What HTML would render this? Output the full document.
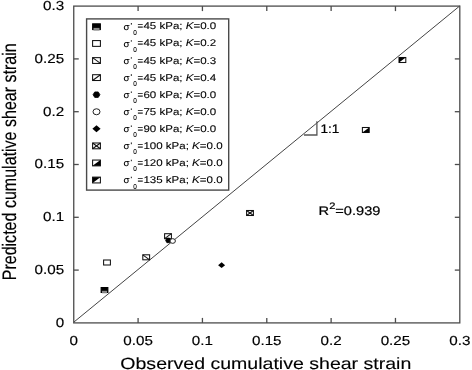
<!DOCTYPE html><html><head><meta charset="utf-8"><style>html,body{margin:0;padding:0;background:#fff;}svg{display:block;will-change:transform;}text{font-family:"Liberation Sans",sans-serif;fill:#000;text-rendering:geometricPrecision;stroke:#000;stroke-width:0.2px;}.b{stroke-width:0.12px;}.l{stroke-width:0.1px;}.t{stroke-width:0.15px;}</style></head><body>
<svg width="472" height="370" viewBox="0 0 472 370">
<rect x="0" y="0" width="472" height="370" fill="#fff"/>
<line x1="73.75" y1="322.2" x2="459.8" y2="5.9" stroke="#444" stroke-width="1.0"/>
<rect x="73.75" y="6.1" width="386.05" height="316.80" fill="none" stroke="#4c4c4c" stroke-width="1.3"/>
<line x1="138.09" y1="322.9" x2="138.09" y2="317.9" stroke="#4c4c4c" stroke-width="1.3"/>
<line x1="138.09" y1="6.1" x2="138.09" y2="11.1" stroke="#4c4c4c" stroke-width="1.3"/>
<line x1="73.75" y1="270.10" x2="78.75" y2="270.10" stroke="#4c4c4c" stroke-width="1.3"/>
<line x1="459.8" y1="270.10" x2="454.8" y2="270.10" stroke="#4c4c4c" stroke-width="1.3"/>
<line x1="202.43" y1="322.9" x2="202.43" y2="317.9" stroke="#4c4c4c" stroke-width="1.3"/>
<line x1="202.43" y1="6.1" x2="202.43" y2="11.1" stroke="#4c4c4c" stroke-width="1.3"/>
<line x1="73.75" y1="217.30" x2="78.75" y2="217.30" stroke="#4c4c4c" stroke-width="1.3"/>
<line x1="459.8" y1="217.30" x2="454.8" y2="217.30" stroke="#4c4c4c" stroke-width="1.3"/>
<line x1="266.78" y1="322.9" x2="266.78" y2="317.9" stroke="#4c4c4c" stroke-width="1.3"/>
<line x1="266.78" y1="6.1" x2="266.78" y2="11.1" stroke="#4c4c4c" stroke-width="1.3"/>
<line x1="73.75" y1="164.50" x2="78.75" y2="164.50" stroke="#4c4c4c" stroke-width="1.3"/>
<line x1="459.8" y1="164.50" x2="454.8" y2="164.50" stroke="#4c4c4c" stroke-width="1.3"/>
<line x1="331.12" y1="322.9" x2="331.12" y2="317.9" stroke="#4c4c4c" stroke-width="1.3"/>
<line x1="331.12" y1="6.1" x2="331.12" y2="11.1" stroke="#4c4c4c" stroke-width="1.3"/>
<line x1="73.75" y1="111.70" x2="78.75" y2="111.70" stroke="#4c4c4c" stroke-width="1.3"/>
<line x1="459.8" y1="111.70" x2="454.8" y2="111.70" stroke="#4c4c4c" stroke-width="1.3"/>
<line x1="395.46" y1="322.9" x2="395.46" y2="317.9" stroke="#4c4c4c" stroke-width="1.3"/>
<line x1="395.46" y1="6.1" x2="395.46" y2="11.1" stroke="#4c4c4c" stroke-width="1.3"/>
<line x1="73.75" y1="58.90" x2="78.75" y2="58.90" stroke="#4c4c4c" stroke-width="1.3"/>
<line x1="459.8" y1="58.90" x2="454.8" y2="58.90" stroke="#4c4c4c" stroke-width="1.3"/>
<text class="t" x="0" y="0" font-size="13.0" text-anchor="end" transform="translate(64.2,326.77) scale(1.17,1)">0</text>
<text class="t" x="0" y="0" font-size="13.0" text-anchor="end" transform="translate(64.2,273.97) scale(1.17,1)">0.05</text>
<text class="t" x="0" y="0" font-size="13.0" text-anchor="end" transform="translate(64.2,221.17) scale(1.17,1)">0.1</text>
<text class="t" x="0" y="0" font-size="13.0" text-anchor="end" transform="translate(64.2,168.37) scale(1.17,1)">0.15</text>
<text class="t" x="0" y="0" font-size="13.0" text-anchor="end" transform="translate(64.2,115.57) scale(1.17,1)">0.2</text>
<text class="t" x="0" y="0" font-size="13.0" text-anchor="end" transform="translate(64.2,62.77) scale(1.17,1)">0.25</text>
<text class="t" x="0" y="0" font-size="13.0" text-anchor="end" transform="translate(64.2,9.97) scale(1.17,1)">0.3</text>
<text class="t" x="0" y="0" font-size="13.0" text-anchor="middle" transform="translate(73.75,344.60) scale(1.17,1)">0</text>
<text class="t" x="0" y="0" font-size="13.0" text-anchor="middle" transform="translate(138.09,344.60) scale(1.17,1)">0.05</text>
<text class="t" x="0" y="0" font-size="13.0" text-anchor="middle" transform="translate(202.43,344.60) scale(1.17,1)">0.1</text>
<text class="t" x="0" y="0" font-size="13.0" text-anchor="middle" transform="translate(266.78,344.60) scale(1.17,1)">0.15</text>
<text class="t" x="0" y="0" font-size="13.0" text-anchor="middle" transform="translate(331.12,344.60) scale(1.17,1)">0.2</text>
<text class="t" x="0" y="0" font-size="13.0" text-anchor="middle" transform="translate(395.46,344.60) scale(1.17,1)">0.25</text>
<text class="t" x="0" y="0" font-size="13.0" text-anchor="middle" transform="translate(459.80,344.60) scale(1.17,1)">0.3</text>
<text x="0" y="0" font-size="16.3" class="b" transform="translate(120.3,368.7) scale(1.2,1)">Observed cumulative shear strain</text>
<text x="0" y="0" class="b" transform="translate(16.2,280.3) rotate(-90) scale(1,1.22)" font-size="16.04">Predicted cumulative shear strain</text>
<polyline points="304,135 316.9,135 316.9,121.3" fill="none" stroke="#555" stroke-width="1.3"/>
<text x="0" y="0" font-size="12.4" transform="translate(320.5,132.6) scale(1.1,1)">1:1</text>
<text x="0" y="0" font-size="12.4" transform="translate(318.6,214.5) scale(1.18,1)">R<tspan font-size="9.4" dy="-6">2</tspan><tspan dy="6">=0.939</tspan></text>
<rect x="86.6" y="18.9" width="142.1" height="171.2" fill="#fff" stroke="#4a4a4a" stroke-width="1.4"/>
<rect x="92.60" y="23.80" width="7.8" height="5.8" fill="#000" stroke="#000" stroke-width="1"/><rect x="93.50" y="27.90" width="6.00" height="2.2" fill="#8c8c8c"/><rect x="93.50" y="29.90" width="6.00" height="0.4" fill="#555"/>
<text class="l" x="0" y="0" font-size="9.3" transform="translate(123.4,29.80) scale(1.05,1)">σ</text>
<path d="M130.8,23.10 h1.2 l-0.3,1.6 h-0.8 z" fill="#222"/>
<text class="l" x="0" y="0" font-size="7.0" transform="translate(133.2,34.90) scale(0.92,1)">0</text>
<text x="0" y="0" font-size="9.7" class="l" transform="translate(137.4,29.40) scale(1.0,1)">=</text>
<text x="0" y="0" font-size="9.7" class="l" transform="translate(143.4,29.40) scale(1.19,1)">45 kPa; <tspan font-style="italic">K</tspan>=0.0</text>
<rect x="92.60" y="40.57" width="7.8" height="5.8" fill="#fff" stroke="#111" stroke-width="1.05"/>
<text class="l" x="0" y="0" font-size="9.3" transform="translate(123.4,46.87) scale(1.05,1)">σ</text>
<path d="M130.8,40.17 h1.2 l-0.3,1.6 h-0.8 z" fill="#222"/>
<text class="l" x="0" y="0" font-size="7.0" transform="translate(133.2,51.97) scale(0.92,1)">0</text>
<text x="0" y="0" font-size="9.7" class="l" transform="translate(137.4,46.47) scale(1.0,1)">=</text>
<text x="0" y="0" font-size="9.7" class="l" transform="translate(143.4,46.47) scale(1.19,1)">45 kPa; <tspan font-style="italic">K</tspan>=0.2</text>
<rect x="92.60" y="57.64" width="7.8" height="5.8" fill="#fff" stroke="#111" stroke-width="1.05"/><line x1="92.60" y1="57.64" x2="100.40" y2="63.44" stroke="#111" stroke-width="1.05"/>
<text class="l" x="0" y="0" font-size="9.3" transform="translate(123.4,63.94) scale(1.05,1)">σ</text>
<path d="M130.8,57.24 h1.2 l-0.3,1.6 h-0.8 z" fill="#222"/>
<text class="l" x="0" y="0" font-size="7.0" transform="translate(133.2,69.04) scale(0.92,1)">0</text>
<text x="0" y="0" font-size="9.7" class="l" transform="translate(137.4,63.54) scale(1.0,1)">=</text>
<text x="0" y="0" font-size="9.7" class="l" transform="translate(143.4,63.54) scale(1.19,1)">45 kPa; <tspan font-style="italic">K</tspan>=0.3</text>
<rect x="92.60" y="74.71" width="7.8" height="5.8" fill="#fff" stroke="#111" stroke-width="1.05"/><line x1="92.60" y1="80.51" x2="100.40" y2="74.71" stroke="#111" stroke-width="1.05"/>
<text class="l" x="0" y="0" font-size="9.3" transform="translate(123.4,81.01) scale(1.05,1)">σ</text>
<path d="M130.8,74.31 h1.2 l-0.3,1.6 h-0.8 z" fill="#222"/>
<text class="l" x="0" y="0" font-size="7.0" transform="translate(133.2,86.11) scale(0.92,1)">0</text>
<text x="0" y="0" font-size="9.7" class="l" transform="translate(137.4,80.61) scale(1.0,1)">=</text>
<text x="0" y="0" font-size="9.7" class="l" transform="translate(143.4,80.61) scale(1.19,1)">45 kPa; <tspan font-style="italic">K</tspan>=0.4</text>
<polygon points="93.05,94.68 94.78,91.93 98.22,91.93 99.95,94.68 98.22,97.43 94.78,97.43" fill="#000" stroke="#000" stroke-width="0.8"/>
<text class="l" x="0" y="0" font-size="9.3" transform="translate(123.4,98.08) scale(1.05,1)">σ</text>
<path d="M130.8,91.38 h1.2 l-0.3,1.6 h-0.8 z" fill="#222"/>
<text class="l" x="0" y="0" font-size="7.0" transform="translate(133.2,103.18) scale(0.92,1)">0</text>
<text x="0" y="0" font-size="9.7" class="l" transform="translate(137.4,97.68) scale(1.0,1)">=</text>
<text x="0" y="0" font-size="9.7" class="l" transform="translate(143.4,97.68) scale(1.19,1)">60 kPa; <tspan font-style="italic">K</tspan>=0.0</text>
<ellipse cx="96.50" cy="111.75" rx="3.5" ry="3.0" fill="#fff" stroke="#222" stroke-width="1.0"/>
<text class="l" x="0" y="0" font-size="9.3" transform="translate(123.4,115.15) scale(1.05,1)">σ</text>
<path d="M130.8,108.45 h1.2 l-0.3,1.6 h-0.8 z" fill="#222"/>
<text class="l" x="0" y="0" font-size="7.0" transform="translate(133.2,120.25) scale(0.92,1)">0</text>
<text x="0" y="0" font-size="9.7" class="l" transform="translate(137.4,114.75) scale(1.0,1)">=</text>
<text x="0" y="0" font-size="9.7" class="l" transform="translate(143.4,114.75) scale(1.19,1)">75 kPa; <tspan font-style="italic">K</tspan>=0.0</text>
<polygon points="92.40,128.82 96.50,125.32 100.60,128.82 96.50,132.32" fill="#000"/>
<text class="l" x="0" y="0" font-size="9.3" transform="translate(123.4,132.22) scale(1.05,1)">σ</text>
<path d="M130.8,125.52 h1.2 l-0.3,1.6 h-0.8 z" fill="#222"/>
<text class="l" x="0" y="0" font-size="7.0" transform="translate(133.2,137.32) scale(0.92,1)">0</text>
<text x="0" y="0" font-size="9.7" class="l" transform="translate(137.4,131.82) scale(1.0,1)">=</text>
<text x="0" y="0" font-size="9.7" class="l" transform="translate(143.4,131.82) scale(1.19,1)">90 kPa; <tspan font-style="italic">K</tspan>=0.0</text>
<rect x="92.60" y="142.99" width="7.8" height="5.8" fill="#fff" stroke="#111" stroke-width="1.05"/><line x1="92.60" y1="142.99" x2="100.40" y2="148.79" stroke="#111" stroke-width="1.05"/><line x1="92.60" y1="148.79" x2="100.40" y2="142.99" stroke="#111" stroke-width="1.05"/>
<text class="l" x="0" y="0" font-size="9.3" transform="translate(123.4,149.29) scale(1.05,1)">σ</text>
<path d="M130.8,142.59 h1.2 l-0.3,1.6 h-0.8 z" fill="#222"/>
<text class="l" x="0" y="0" font-size="7.0" transform="translate(133.2,154.39) scale(0.92,1)">0</text>
<text x="0" y="0" font-size="9.7" class="l" transform="translate(137.4,148.89) scale(1.0,1)">=</text>
<text x="0" y="0" font-size="9.7" class="l" transform="translate(143.4,148.89) scale(1.19,1)">100 kPa; <tspan font-style="italic">K</tspan>=0.0</text>
<rect x="92.60" y="160.06" width="7.8" height="5.8" fill="#fff" stroke="#111" stroke-width="1.05"/><polygon points="92.60,165.86 100.40,160.06 100.40,165.86" fill="#000"/>
<text class="l" x="0" y="0" font-size="9.3" transform="translate(123.4,166.36) scale(1.05,1)">σ</text>
<path d="M130.8,159.66 h1.2 l-0.3,1.6 h-0.8 z" fill="#222"/>
<text class="l" x="0" y="0" font-size="7.0" transform="translate(133.2,171.46) scale(0.92,1)">0</text>
<text x="0" y="0" font-size="9.7" class="l" transform="translate(137.4,165.96) scale(1.0,1)">=</text>
<text x="0" y="0" font-size="9.7" class="l" transform="translate(143.4,165.96) scale(1.19,1)">120 kPa; <tspan font-style="italic">K</tspan>=0.0</text>
<rect x="92.60" y="177.13" width="7.8" height="5.8" fill="#fff" stroke="#111" stroke-width="1.05"/><polygon points="92.60,177.13 100.40,177.13 92.60,182.93" fill="#000"/>
<text class="l" x="0" y="0" font-size="9.3" transform="translate(123.4,183.43) scale(1.05,1)">σ</text>
<path d="M130.8,176.73 h1.2 l-0.3,1.6 h-0.8 z" fill="#222"/>
<text class="l" x="0" y="0" font-size="7.0" transform="translate(133.2,188.53) scale(0.92,1)">0</text>
<text x="0" y="0" font-size="9.7" class="l" transform="translate(137.4,183.03) scale(1.0,1)">=</text>
<text x="0" y="0" font-size="9.7" class="l" transform="translate(143.4,183.03) scale(1.19,1)">135 kPa; <tspan font-style="italic">K</tspan>=0.0</text>
<rect x="101.10" y="287.50" width="6.8" height="5.0" fill="#000" stroke="#000" stroke-width="1"/><rect x="102.00" y="290.80" width="5.00" height="2.2" fill="#8c8c8c"/><rect x="102.00" y="292.80" width="5.00" height="0.4" fill="#555"/>
<rect x="103.60" y="260.00" width="6.8" height="5.0" fill="#fff" stroke="#111" stroke-width="1.05"/>
<rect x="142.80" y="254.80" width="6.8" height="5.0" fill="#fff" stroke="#111" stroke-width="1.05"/><line x1="142.80" y1="254.80" x2="149.60" y2="259.80" stroke="#111" stroke-width="1.05"/>
<rect x="164.60" y="233.70" width="6.8" height="5.0" fill="#fff" stroke="#111" stroke-width="1.05"/><line x1="164.60" y1="238.70" x2="171.40" y2="233.70" stroke="#111" stroke-width="1.05"/>
<polygon points="165.60,240.40 166.90,238.10 169.50,238.10 170.80,240.40 169.50,242.70 166.90,242.70" fill="#000" stroke="#000" stroke-width="0.8"/>
<ellipse cx="172.70" cy="241.00" rx="2.7" ry="2.35" fill="#fff" stroke="#222" stroke-width="1.0"/>
<polygon points="218.10,265.20 221.60,262.30 225.10,265.20 221.60,268.10" fill="#000"/>
<rect x="246.60" y="210.50" width="6.8" height="5.0" fill="#fff" stroke="#111" stroke-width="1.05"/><line x1="246.60" y1="210.50" x2="253.40" y2="215.50" stroke="#111" stroke-width="1.05"/><line x1="246.60" y1="215.50" x2="253.40" y2="210.50" stroke="#111" stroke-width="1.05"/>
<rect x="362.40" y="127.50" width="6.8" height="5.0" fill="#fff" stroke="#111" stroke-width="1.05"/><polygon points="362.40,132.50 369.20,127.50 369.20,132.50" fill="#000"/>
<rect x="399.00" y="57.50" width="6.8" height="5.0" fill="#fff" stroke="#111" stroke-width="1.05"/><polygon points="399.00,57.50 405.80,57.50 399.00,62.50" fill="#000"/>
</svg></body></html>
